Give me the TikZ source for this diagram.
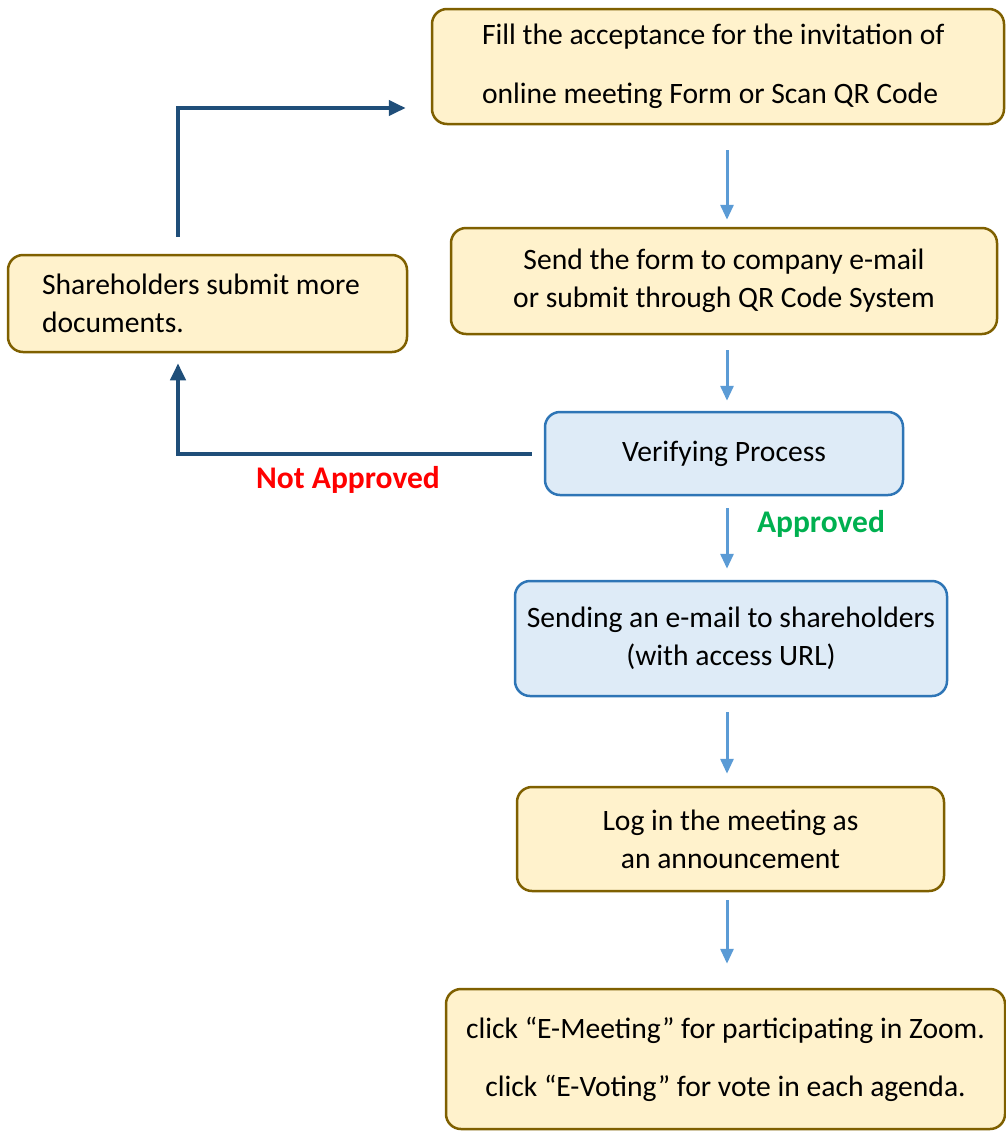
\documentclass[tikz,border=0pt]{standalone}
\usepackage{fontspec}
\setmainfont{Carlito}
\usetikzlibrary{arrows.meta}
\definecolor{boxfill}{HTML}{FFF2CC}
\definecolor{boxline}{HTML}{7F6000}
\definecolor{bluefill}{HTML}{DEEBF7}
\definecolor{blueline}{HTML}{2E75B6}
\definecolor{flowcol}{HTML}{5B9BD5}
\definecolor{backcol}{HTML}{1F4E79}
\definecolor{okgreen}{HTML}{00B050}
\tikzset{
  yellowbox/.style={draw=boxline, fill=boxfill, line width=2.5pt, rounded corners=15pt, inner sep=0pt, align=center},
  bluebox/.style={draw=blueline, fill=bluefill, line width=2.5pt, rounded corners=15pt, inner sep=0pt, align=center},
  flow/.style={draw=flowcol, line width=3pt, -{Triangle[length=15pt,width=13pt]}},
  back/.style={draw=backcol, line width=4pt, -{Triangle[length=17pt,width=15pt]}},
  decision/.style={font=\fontsize{31.5}{38}\selectfont\bfseries}
}

\begin{document}
\begin{tikzpicture}[x=1pt,y=-1pt,font=\fontsize{29.6}{38}\selectfont]
    \useasboundingbox (0,0) rectangle (1005,1133);

    \node[yellowbox, minimum width=570pt, minimum height=115pt, text width=472pt, align=flush left, inner xsep=50pt] (fill) at (718,66.5)
      {Fill the acceptance for the invitation of\\[21pt]online meeting Form or Scan QR Code};
    \node[yellowbox, minimum width=546pt, minimum height=106pt] (send) at (724,281)
      {Send the form to company e-mail\\or submit through QR Code System};
    \node[yellowbox, minimum width=399pt, minimum height=97pt, text width=331pt, align=flush left, inner xsep=34pt] (sh) at (207.5,303.5)
      {Shareholders submit more\\documents.};
    \node[bluebox, minimum width=358pt, minimum height=83pt] (ver) at (724,453.5) {Verifying Process};
    \node[bluebox, minimum width=432pt, minimum height=115pt] (mail) at (731,638.5)
      {Sending an e-mail to shareholders\\(with access URL)};
    \node[yellowbox, minimum width=427pt, minimum height=104pt] (log) at (730.5,839)
      {Log in the meeting as\\an announcement};
    \node[yellowbox, minimum width=559pt, minimum height=140pt] (click) at (725.5,1059)
      {click “E-Meeting” for participating in Zoom.\\[20pt]click “E-Voting” for vote in each agenda.};

    \coordinate (axis) at (727,0);
    \draw[flow, shorten <=25pt, shorten >=7pt] (fill.south -| axis) -- (send.north -| axis);
    \draw[flow, shorten <=15pt, shorten >=10pt] (send.south -| axis) -- (ver.north -| axis);
    \draw[flow, shorten <=12pt, shorten >=11pt] (ver.south -| axis) -- (mail.north -| axis);
    \draw[flow, shorten <=15pt, shorten >=12pt] (mail.south -| axis) -- (log.north -| axis);
    \draw[flow, shorten <=8pt, shorten >=24pt] (log.south -| axis) -- (click.north -| axis);

    \coordinate (turn) at (178,108);
    \draw[back] (sh.north -| turn) ++(0,-17) -- (turn) -- ([xshift=-25pt]fill.west |- turn);
    \draw[back] ([xshift=-12pt]ver.west) -| ([yshift=-10pt]sh.south -| turn);

    \node[decision, text=red] (no) at (348,480) {Not Approved};
    \node[decision, text=okgreen] (yes) at (821,524) {Approved};
\end{tikzpicture}
\end{document}
